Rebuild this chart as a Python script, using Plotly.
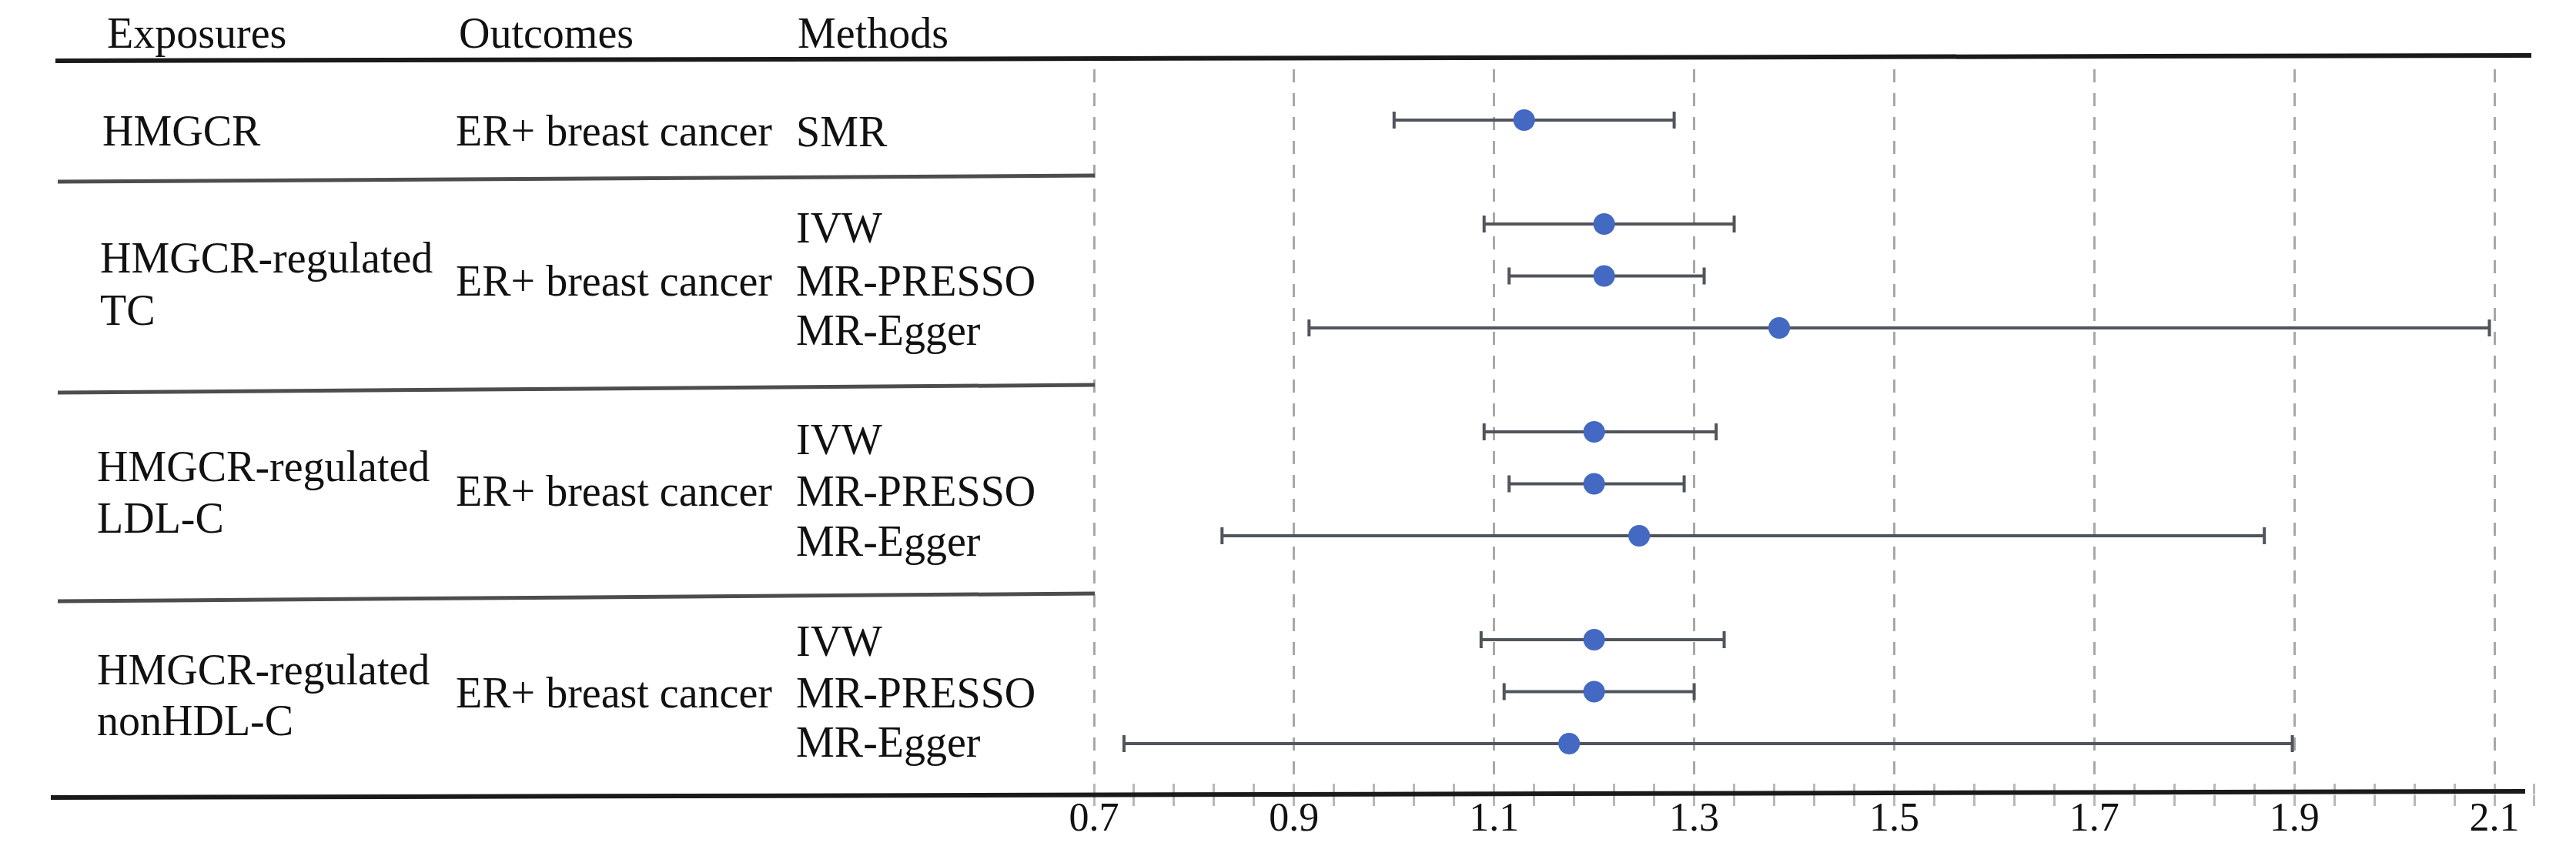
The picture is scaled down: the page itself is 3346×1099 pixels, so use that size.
import plotly.graph_objects as go

# ---------------- data ----------------
headers = ["Exposures", "Outcomes", "Methods"]
exposure_lines = [["HMGCR"], ["HMGCR-regulated", "TC"],
                  ["HMGCR-regulated", "LDL-C"], ["HMGCR-regulated", "nonHDL-C"]]
outcomes = ["ER+ breast cancer", "ER+ breast cancer", "ER+ breast cancer", "ER+ breast cancer"]
methods = ["SMR",
           "IVW", "MR-PRESSO", "MR-Egger",
           "IVW", "MR-PRESSO", "MR-Egger",
           "IVW", "MR-PRESSO", "MR-Egger"]
estimate = [1.13, 1.21, 1.21, 1.385, 1.20, 1.20, 1.245, 1.20, 1.20, 1.175]
ci_low = [1.00, 1.09, 1.115, 0.915, 1.09, 1.115, 0.828, 1.087, 1.11, 0.73]
ci_high = [1.28, 1.34, 1.31, 2.095, 1.322, 1.29, 1.87, 1.33, 1.30, 1.898]
tick_vals = [0.7, 0.9, 1.1, 1.3, 1.5, 1.7, 1.9, 2.1]
tick_text = ["0.7", "0.9", "1.1", "1.3", "1.5", "1.7", "1.9", "2.1"]

# ---------------- layout geometry (pixels) ----------------
W, H = 3346, 1099
ROW_SLOTS = [0, 2, 3, 4, 6, 7, 8, 10, 11, 12]
ROW0_PY, ROW_STEP = 148, 67.5
PA_LEFT, PA_RIGHT, PA_TOP, PA_BOTTOM = 1380, 3290, 82, 1024
X07_PX, X21_PX = 1413, 3232
scale = (X21_PX - X07_PX) / 1.4
x_range = [0.7 + (PA_LEFT - X07_PX) / scale, 0.7 + (PA_RIGHT - X07_PX) / scale]
y_range = [(PA_BOTTOM - ROW0_PY) / ROW_STEP, (PA_TOP - ROW0_PY) / ROW_STEP]


def fx(px):
    return px / W


def fy(py):
    return 1 - py / H


FONT = "Liberation Serif, Times New Roman, serif"
TXT = "#111111"

fig = go.Figure()
fig.add_trace(go.Scatter(
    x=estimate, y=ROW_SLOTS, mode="markers",
    marker=dict(size=28, color="#4469c3", line=dict(width=0)),
    error_x=dict(type="data", symmetric=False,
                 array=[h - e for h, e in zip(ci_high, estimate)],
                 arrayminus=[e - l for e, l in zip(estimate, ci_low)],
                 color="#50555c", thickness=4, width=11),
    showlegend=False, hoverinfo="skip"))
# dummy trace so the overlay axis (upper half of tick marks) is drawn
fig.add_trace(go.Scatter(x=[None], y=[None], xaxis="x2", yaxis="y",
                         showlegend=False, hoverinfo="skip"))

tickstyle = dict(ticklen=14, tickwidth=3, tickcolor="#b8b8b8")
fig.update_layout(
    width=W, height=H,
    margin=dict(l=0, r=0, t=0, b=0),
    paper_bgcolor="white", plot_bgcolor="white",
    xaxis=dict(domain=[fx(PA_LEFT), fx(PA_RIGHT)], range=x_range,
               tickmode="array", tickvals=tick_vals, ticktext=tick_text,
               ticks="outside", **tickstyle, ticklabelstandoff=-30,
               minor=dict(tickmode="linear", tick0=0.7, dtick=0.04,
                          ticks="outside", showgrid=False, **tickstyle),
               showgrid=True, gridcolor="#a8a8a8", gridwidth=3,
               griddash="17px,14px", zeroline=False, showline=False,
               tickfont=dict(family=FONT, size=52, color=TXT),
               automargin=False, fixedrange=True),
    xaxis2=dict(domain=[fx(PA_LEFT), fx(PA_RIGHT)], range=x_range,
                overlaying="x", anchor="y", side="bottom",
                tickmode="array", tickvals=tick_vals, showticklabels=False,
                ticks="inside", **tickstyle,
                minor=dict(tickmode="linear", tick0=0.7, dtick=0.04,
                           ticks="inside", showgrid=False, **tickstyle),
                showgrid=False, zeroline=False, showline=False,
                automargin=False, fixedrange=True),
    yaxis=dict(domain=[fy(PA_BOTTOM), fy(PA_TOP)], range=y_range,
               showgrid=False, zeroline=False, showline=False,
               showticklabels=False, ticks="", automargin=False, fixedrange=True),
)

# ---------------- rules ----------------
rules = [
    ((64, 71), (3280, 64), 6, "#1a1a1a"),
    ((67, 228), (1414, 220), 5, "#4d4d4d"),
    ((67, 502), (1414, 492), 5, "#4d4d4d"),
    ((67, 773), (1414, 763), 5, "#4d4d4d"),
    ((58, 1028), (3272, 1020), 6, "#1a1a1a"),
]
for (x0, y0), (x1, y1), w, c in rules:
    fig.add_shape(type="line", xref="paper", yref="paper",
                  x0=fx(x0), y0=fy(y0), x1=fx(x1), y1=fy(y1),
                  line=dict(color=c, width=w))

# ---------------- text ----------------
def label(text, px, py):
    fig.add_annotation(text=text, xref="paper", yref="paper",
                       x=fx(px), y=fy(py), xanchor="left", yanchor="middle",
                       showarrow=False, borderpad=0,
                       font=dict(family=FONT, size=56, color=TXT))


for h, px in zip(headers, [130, 587, 1027]):
    label(h, px, 35)

EXPO_X = [124, 121, 117, 117]
EXPO_Y = [[162], [327, 395], [598, 665], [862, 928]]
OUT_X = 583
OUT_Y = [162, 357, 630, 892]
METH_X = 1025
METH_Y = [163, 288, 357, 421, 563, 630, 695, 825, 892, 956]

for lines, ex, eys in zip(exposure_lines, EXPO_X, EXPO_Y):
    for t, ey in zip(lines, eys):
        label(t, ex, ey)
for o, oy in zip(outcomes, OUT_Y):
    label(o, OUT_X, oy)
for m, my in zip(methods, METH_Y):
    label(m, METH_X, my)

fig.write_html("out.html")
